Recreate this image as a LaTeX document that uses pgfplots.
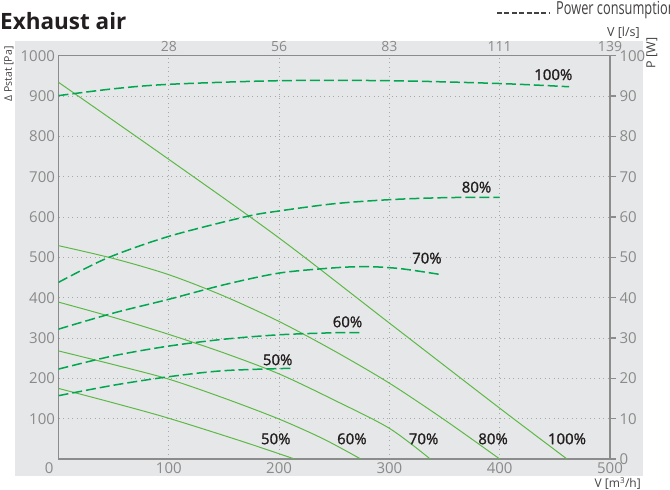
\documentclass[border=0pt]{standalone}
\usepackage{fontspec}
\setmainfont{Open Sans}
\newfontface\labfont[FakeBold=1.2]{Open Sans}
\usepackage{graphicx}
\usepackage{pgfplots}
\pgfplotsset{compat=1.18}
\definecolor{bg}{HTML}{E6E7E8}
\definecolor{solidg}{HTML}{5DB947}
\definecolor{dashg}{HTML}{00A650}
\definecolor{tickc}{HTML}{8A8A8A}
\definecolor{axc}{HTML}{8C8C8C}
\definecolor{gridc}{HTML}{A8A8A8}
\definecolor{txt}{HTML}{231F20}
\begin{document}
\begin{tikzpicture}[x=1pt,y=1pt]
\path[use as bounding box] (0,0) rectangle (670,490);
\fill[bg] (15,14) rectangle (643,449);
\node[anchor=base west, font=\fontsize{22.5}{26}\selectfont\bfseries, text=txt, inner sep=0] at (0,460) {Exhaust air};
\draw[txt!85, line width=1.1pt, dash pattern=on 5pt off 2.4pt] (497,477) -- (549,477);
\node[anchor=base west, font=\fontsize{18}{20}\selectfont, text=txt!85, inner sep=0] at (556,475) {\scalebox{0.71}[1]{Power consumption}};
\node[anchor=base east, font=\fontsize{12.5}{15}\selectfont, text=txt!85, inner sep=0] at (640,453) {V [l/s]};
\node[anchor=base east, font=\fontsize{12}{14}\selectfont, text=txt!85, inner sep=0] at (641,2.5) {V [m\textsuperscript{3}/h]};
\node[rotate=90, font=\fontsize{12.5}{15}\selectfont, text=txt!85, inner sep=0] at (652,437) {P [W]};
\node[rotate=90, font=\fontsize{10.5}{12}\selectfont, text=txt!85, inner sep=0] at (9,416) {Δ Pstat [Pa]};
\begin{axis}[
  at={(58.5pt,31pt)}, anchor=south west, scale only axis,
  width=551.5pt, height=403.3pt,
  xmin=0, xmax=500, ymin=0, ymax=1000,
  xtick={0,100,...,500}, ytick={100,200,...,1000},
  xticklabels={\makebox[0pt][r]{0\hspace{5pt}},100,200,300,400,500},
  xtick pos=bottom, ytick pos=left,
  tick style={draw=none},
  grid=major,
  major grid style={gridc, line width=0.9pt, dash pattern=on 0.9pt off 3.6pt},
  axis line style={axc, line width=1.2pt},
  ticklabel style={font=\fontsize{15}{17}\selectfont, text=tickc},
  xticklabel style={yshift=0pt},
  /pgf/number format/assume math mode=true,
  /pgf/number format/1000 sep={},
  clip=false,
]
% pressure curves
\addplot[solidg, line width=1pt, smooth] coordinates {(0,934) (100,743) (200,548) (300,337) (400,126) (461,0)};
\addplot[solidg, line width=1pt, smooth] coordinates {(0,529) (50,497) (100,457) (150,404) (200,341) (250,268) (300,188) (350,97) (400,0)};
\addplot[solidg, line width=1pt, smooth] coordinates {(0,389) (50,351) (100,309) (150,263) (200,211) (250,146) (300,76) (337,0)};
\addplot[solidg, line width=1pt, smooth] coordinates {(0,268) (50,234) (100,198) (150,151) (200,99) (240,50) (274,0)};
\addplot[solidg, line width=1pt, smooth] coordinates {(0,175) (50,139) (100,101) (165,45) (214,0)};
% labels
\begin{scope}[every node/.style={font=\fontsize{15}{17}\labfont, text=txt, inner sep=0}]
\node at (axis cs:197,50) {50\%};
\node at (axis cs:266,50) {60\%};
\node at (axis cs:331,50) {70\%};
\node at (axis cs:394,50) {80\%};
\node at (axis cs:461,50) {100\%};
\node at (axis cs:448.6,953) {100\%};
\node at (axis cs:379,674) {80\%};
\node at (axis cs:334,498) {70\%};
\node at (axis cs:262,340) {60\%};
\node at (axis cs:198.7,246) {50\%};
\end{scope}
\end{axis}
\begin{axis}[
  at={(58.5pt,31pt)}, anchor=south west, scale only axis,
  width=551.5pt, height=403.3pt,
  xmin=0, xmax=500, ymin=0, ymax=100,
  axis x line*=top, axis y line*=right,
  xtick={100,200,...,500}, xticklabels={28,56,83,111,139},
  ytick={0,10,...,100},
  tick align=outside, major tick length=6pt,
  xtick style={draw=none},
  ytick style={axc, line width=1.2pt},
  axis line style={axc, line width=1.2pt, -},
  ticklabel style={font=\fontsize{15}{17}\selectfont, text=tickc},
  xticklabel style={font=\fontsize{14}{16}\selectfont, yshift=-5pt},
  /pgf/number format/assume math mode=true,
]
\addplot[dashg, line width=1.5pt, smooth, dash pattern=on 10pt off 4pt] coordinates {(0,90.1) (50,91.8) (100,92.9) (200,93.8) (300,93.8) (400,93.1) (463,92.3)};
\addplot[dashg, line width=1.5pt, smooth, dash pattern=on 10pt off 4pt] coordinates {(0,43.8) (44,49.8) (100,55.2) (170,60.1) (200,61.5) (250,63.3) (300,64.3) (350,64.8) (400,64.9)};
\addplot[dashg, line width=1.5pt, smooth, dash pattern=on 10pt off 4pt] coordinates {(0,32.2) (50,36.2) (100,39.6) (150,43.2) (200,46.1) (250,47.4) (280,47.7) (310,47.2) (345,45.8)};
\addplot[dashg, line width=1.5pt, smooth, dash pattern=on 10pt off 4pt] coordinates {(0,22.3) (50,25.6) (100,28) (150,29.7) (200,30.8) (250,31.3) (276,31.3)};
\addplot[dashg, line width=1.5pt, smooth, dash pattern=on 10pt off 4pt] coordinates {(0,15.7) (50,18.3) (100,20.4) (150,21.9) (212,22.5)};
\end{axis}
\end{tikzpicture}
\end{document}
